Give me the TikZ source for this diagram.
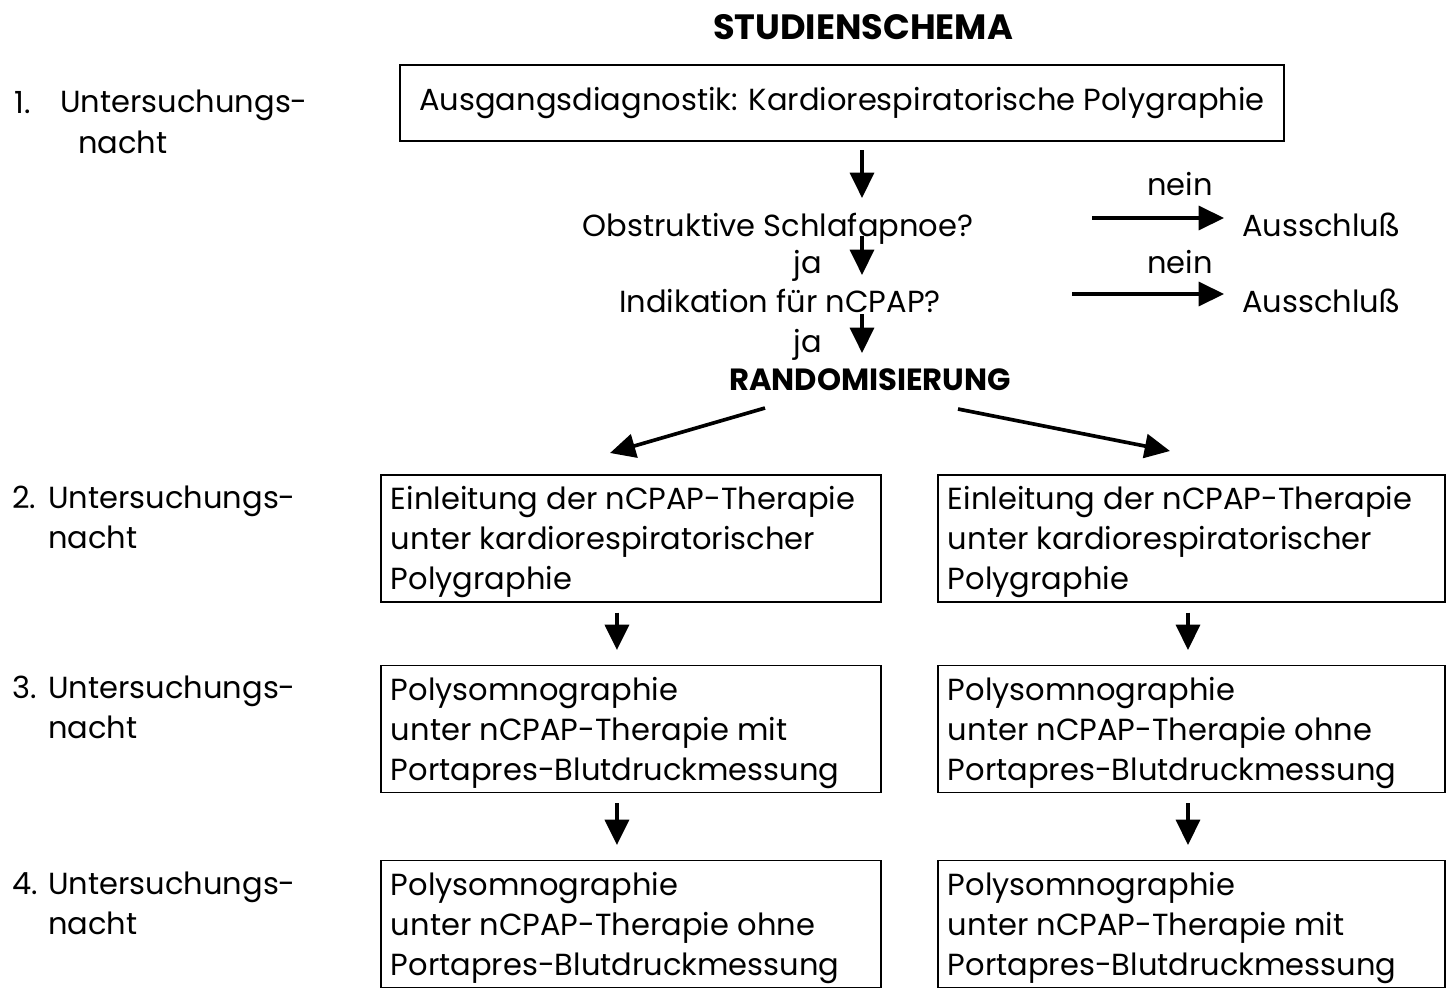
\documentclass[tikz,border=0pt]{standalone}
\usepackage{fontspec}
\setmainfont{Poppins}
\usetikzlibrary{arrows.meta}

\tikzset{
  schritt/.style={draw, line width=1pt, minimum height=3.175cm, inner sep=0pt},
  txt/.style={inner sep=0pt, anchor=base, align=left},
  pfeil/.style={line width=2.6pt, -{Triangle[length=18pt, width=17pt]}},
  runter/.style={pfeil, shorten <=7pt, shorten >=10.5pt}
}

\begin{document}
\begin{tikzpicture}[x=0.025cm, y=-0.025cm, font=\fontsize{21.7}{28.45}\selectfont]
        \useasboundingbox (0,0) rectangle (1450,992);

        % Titel und Eingangsdiagnostik
        \node[txt, font=\fontsize{25}{28.45}\selectfont\bfseries] (titel) at (863,40) {STUDIENSCHEMA};
        \node[draw, line width=1pt, minimum width=22.1cm, minimum height=1.9cm] (ausgang) at (842,103)
              {Ausgangsdiagnostik: Kardiorespiratorische Polygraphie};

        % Naechte
        \node[txt, anchor=base west] (z1) at (14,113) {1.};
        \node[txt, anchor=base west] (n1) at (60,153) {Untersuchungs-\\\hspace{0.45cm}nacht};
        \node[txt, anchor=base west] (z2) at (12,508) {2.};
        \node[txt, anchor=base west] (n2) at (48,548) {Untersuchungs-\\nacht};
        \node[txt, anchor=base west] (z3) at (12,698) {3.};
        \node[txt, anchor=base west] (n3) at (48,738) {Untersuchungs-\\nacht};
        \node[txt, anchor=base west] (z4) at (12,894) {4.};
        \node[txt, anchor=base west] (n4) at (48,934) {Untersuchungs-\\nacht};

        % Fragen
        \node[txt] (osa)  at (778,236) {Obstruktive Schlafapnoe?};
        \node[txt] (ja1)  at (808,273) {ja};
        \node[txt] (ind)  at (780,312) {Indikation für nCPAP?};
        \node[txt] (ja2)  at (808,352) {ja};
        \node[txt, font=\fontsize{21.8}{28.45}\selectfont\bfseries] (rand) at (870,390) {RANDOMISIERUNG};
        \node[txt] (nein1) at (1180,195) {nein};
        \node[txt] (nein2) at (1180,273) {nein};
        \node[txt, anchor=base west] (aus1) at (1242,236) {Ausschluß};
        \node[txt, anchor=base west] (aus2) at (1242,312) {Ausschluß};

        \coordinate (a0) at (862,150);
        \coordinate (a1) at (862,198);
        \coordinate (b0) at (862,236);
        \coordinate (b1) at (862,275);
        \coordinate (c0) at (862,314);
        \coordinate (c1) at (862,353);
        \coordinate (d0) at (1092,218);
        \coordinate (d1) at (1224,218);
        \coordinate (e0) at (1072,294);
        \coordinate (e1) at (1224,294);
        \coordinate (l0) at (765,408);
        \coordinate (l1) at (610,453);
        \coordinate (r0) at (958,409);
        \coordinate (r1) at (1170,451);

        % Boxen links
        \node[schritt, minimum width=12.5cm] (l2) at (631,538.5)
              {\parbox{12cm}{\vspace{5pt}Einleitung der nCPAP-Therapie\\unter kardiorespiratorischer\\Polygraphie}};
        \node[schritt, minimum width=12.5cm] (l3) at (631,729)
              {\parbox{12cm}{\vspace{5pt}Polysomnographie\\unter nCPAP-Therapie mit\\Portapres-Blutdruckmessung}};
        \node[schritt, minimum width=12.5cm] (l4) at (631,924)
              {\parbox{12cm}{\vspace{5pt}Polysomnographie\\unter nCPAP-Therapie ohne\\Portapres-Blutdruckmessung}};

        % Boxen rechts
        \node[schritt, minimum width=12.675cm] (r2) at (1191.5,538.5)
              {\parbox{12.175cm}{\vspace{5pt}Einleitung der nCPAP-Therapie\\unter kardiorespiratorischer\\Polygraphie}};
        \node[schritt, minimum width=12.675cm] (r3) at (1191.5,729)
              {\parbox{12.175cm}{\vspace{5pt}Polysomnographie\\unter nCPAP-Therapie ohne\\Portapres-Blutdruckmessung}};
        \node[schritt, minimum width=12.675cm] (r4) at (1191.5,924)
              {\parbox{12.175cm}{\vspace{5pt}Polysomnographie\\unter nCPAP-Therapie mit\\Portapres-Blutdruckmessung}};

        % Pfeile
        \draw[pfeil] (a0) -- (a1);
        \draw[pfeil] (b0) -- (b1);
        \draw[pfeil] (c0) -- (c1);
        \draw[pfeil] (d0) -- (d1);
        \draw[pfeil] (e0) -- (e1);
        \draw[pfeil] (l0) -- (l1);
        \draw[pfeil] (r0) -- (r1);
        \draw[runter] ([xshift=-10pt]l2.south) -- ([xshift=-10pt]l3.north);
        \draw[runter] ([xshift=-10pt]l3.south) -- ([xshift=-10pt]l4.north);
        \draw[runter] ([xshift=-2.5pt]r2.south) -- ([xshift=-2.5pt]r3.north);
        \draw[runter] ([xshift=-2.5pt]r3.south) -- ([xshift=-2.5pt]r4.north);
    \end{tikzpicture}
\end{document}
